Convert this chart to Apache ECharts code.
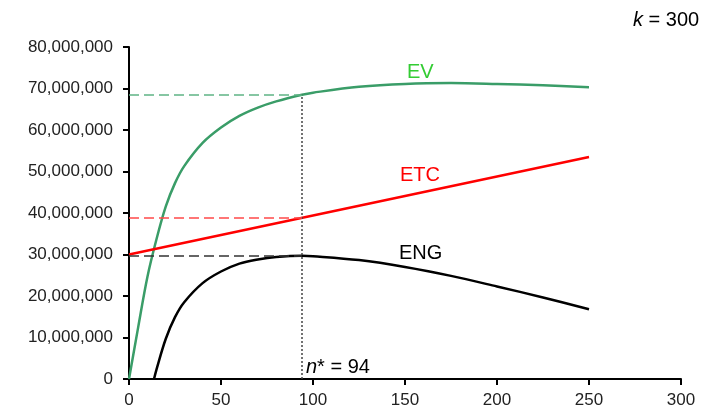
<!DOCTYPE html>
<html>
<head>
<meta charset="utf-8">
<script src="https://cdn.jsdelivr.net/npm/echarts@6/dist/echarts.min.js"></script>
<style>
html,body{margin:0;padding:0;background:#fff;}
#chart{width:719px;height:411px;}
</style>
</head>
<body>
<div id="chart"></div>
<script>
// ---- data (values in units; y in millions) ----
const evX   = [0, 5, 10, 15, 20, 25, 30, 40, 50, 60, 70, 80, 94, 100, 125, 150, 175, 200, 225, 250];
const evY   = [0, 12.5, 24.6, 33.8, 41.6, 47.2, 51.3, 56.9, 60.6, 63.4, 65.4, 66.9, 68.5, 69.0, 70.4, 71.1, 71.3, 71.1, 70.8, 70.3];
const etcX  = [0, 250];
const etcY  = [30.0, 53.5];
const engX  = [13.6, 15, 20, 25, 30, 40, 50, 60, 70, 80, 94, 100, 125, 150, 175, 200, 225, 250];
const engY  = [0, 2.4, 9.7, 14.9, 18.5, 23.1, 25.9, 27.8, 28.8, 29.4, 29.7, 29.6, 28.65, 27.0, 24.85, 22.3, 19.65, 16.8];
const scaleM = 1000000;
const nStar = 94;
const evAtN = 68.5, etcAtN = 38.8, engAtN = 29.7;
const kValue = 300;
const xTicks = [0, 50, 100, 150, 200, 250, 300];
const yTicks = [0, 10, 20, 30, 40, 50, 60, 70, 80];

const pts = (xs, ys) => xs.map((x, i) => [x, ys[i] * scaleM]);

const FONT = '"Liberation Sans", Arial, sans-serif';
const chart = echarts.init(document.getElementById('chart'), null, {renderer: 'canvas'});

const hLine = (y, color) => ({
  silent: true, symbol: 'none', animation: false,
  label: {show: false},
  lineStyle: {color: color, type: [10, 5], width: 1.5},
  data: [[{coord: [0, y * scaleM]}, {coord: [nStar, y * scaleM]}]]
});

const option = {
  animation: false,
  backgroundColor: '#fff',
  grid: {left: 129, right: 38, top: 47, bottom: 32},
  xAxis: {
    type: 'value', min: xTicks[0], max: xTicks[xTicks.length - 1], interval: 50,
    splitLine: {show: false},
    axisLine: {lineStyle: {color: '#000', width: 2}},
    axisTick: {show: true, length: 6, lineStyle: {color: '#000', width: 2}},
    axisLabel: {color: '#222', fontSize: 17, fontFamily: FONT, margin: 13}
  },
  yAxis: {
    type: 'value', min: yTicks[0] * scaleM, max: yTicks[yTicks.length - 1] * scaleM, interval: 10 * scaleM,
    splitLine: {show: false},
    axisLine: {show: true, lineStyle: {color: '#000', width: 2}},
    axisTick: {show: true, length: 6, lineStyle: {color: '#000', width: 2}},
    axisLabel: {color: '#222', fontSize: 17, fontFamily: FONT, margin: 16,
      formatter: v => Math.round(v).toLocaleString('en-US')}
  },
  series: [
    {
      name: 'EV', type: 'line', data: pts(evX, evY), smooth: 0.35,
      showSymbol: false, lineStyle: {color: '#3a9d68', width: 2.5}, z: 3,
      markLine: {
        silent: true, symbol: 'none', animation: false, label: {show: false},
        data: [
          [{coord: [0, evAtN * scaleM], lineStyle: {color: '#5fb485', type: [10, 5], width: 1.5}},
           {coord: [nStar, evAtN * scaleM]}],
          [{coord: [nStar, 0], lineStyle: {color: '#444', type: [2, 2], width: 1.5}},
           {coord: [nStar, evAtN * scaleM]}]
        ]
      }
    },
    {
      name: 'ETC', type: 'line', data: pts(etcX, etcY),
      showSymbol: false, lineStyle: {color: '#ff0000', width: 2.5}, z: 3,
      markLine: hLine(etcAtN, '#ff4a4a')
    },
    {
      name: 'ENG', type: 'line', data: pts(engX, engY), smooth: 0.35,
      showSymbol: false, lineStyle: {color: '#000', width: 2.5}, z: 3,
      markLine: hLine(engAtN, '#333')
    }
  ],
  graphic: [
    {type: 'text', left: 407, top: 62, style: {text: 'EV', fill: '#33cc33', font: '20px ' + FONT}},
    {type: 'text', left: 400, top: 165, style: {text: 'ETC', fill: '#ff0000', font: '20px ' + FONT}},
    {type: 'text', left: 399, top: 243, style: {text: 'ENG', fill: '#000', font: '20px ' + FONT}},
    {type: 'text', left: 633, top: 10, style: {
      text: '{i|k} = ' + kValue, fill: '#000', font: '20px ' + FONT,
      rich: {i: {fontStyle: 'italic', fontSize: 20, fontFamily: FONT, fill: '#000'}}
    }},
    {type: 'text', left: 306, top: 357, style: {
      text: '{i|n}* = ' + nStar, fill: '#000', font: '20px ' + FONT,
      rich: {i: {fontStyle: 'italic', fontSize: 20, fontFamily: FONT, fill: '#000'}}
    }}
  ]
};
chart.setOption(option);
</script>
</body>
</html>
